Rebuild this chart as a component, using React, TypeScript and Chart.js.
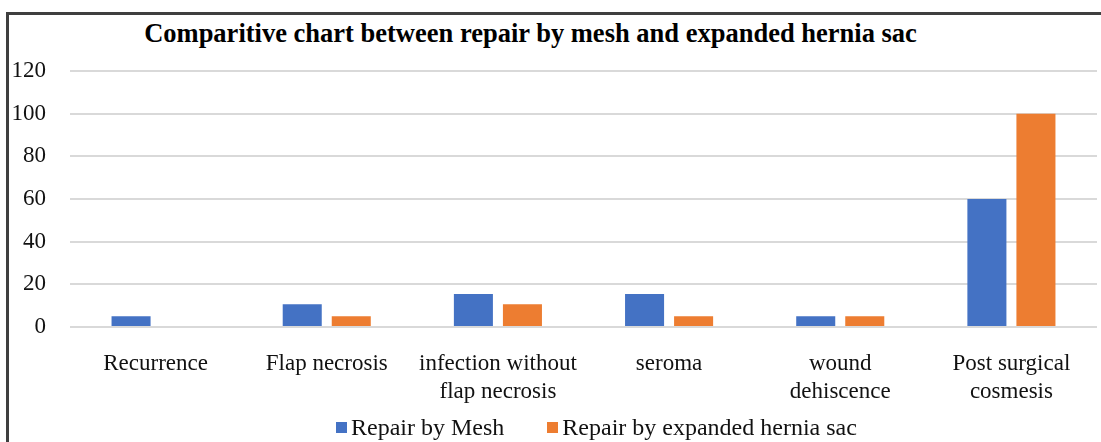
import React, { useEffect, useRef } from "react";
import { Chart, registerables } from "chart.js";

Chart.register(...registerables);

const chartTitle = "Comparitive chart between repair by mesh and expanded hernia sac";
const categories: string[][] = [
  ["Recurrence"],
  ["Flap necrosis"],
  ["infection without", "flap necrosis"],
  ["seroma"],
  ["wound", "dehiscence"],
  ["Post surgical", "cosmesis"],
];
const seriesNames = ["Repair by Mesh", "Repair by expanded hernia sac"];
const meshValues = [5, 10.7, 15.5, 15.5, 5, 60];
const sacValues = [0, 5, 10.7, 5, 5, 100];
const seriesColors = ["#4472C4", "#ED7D31"];
const yMin = 0;
const yMax = 120;
const yStep = 20;

const SERIF = "'Liberation Serif', 'Times New Roman', serif";

export default function App() {
  const canvasRef = useRef<HTMLCanvasElement | null>(null);

  useEffect(() => {
    const canvas = canvasRef.current;
    if (!canvas) return;
    const chart = new Chart(canvas, {
      type: "bar",
      data: {
        labels: categories,
        datasets: [
          {
            label: seriesNames[0],
            data: meshValues,
            backgroundColor: seriesColors[0],
            borderWidth: 0,
            categoryPercentage: 0.573,
            barPercentage: 0.796,
          },
          {
            label: seriesNames[1],
            data: sacValues,
            backgroundColor: seriesColors[1],
            borderWidth: 0,
            categoryPercentage: 0.573,
            barPercentage: 0.796,
          },
        ],
      },
      options: {
        animation: false,
        responsive: false,
        devicePixelRatio: 1,
        layout: { padding: { left: 0, right: 4, top: 71, bottom: 13 } },
        plugins: {
          legend: { display: false },
          title: { display: false },
          tooltip: { enabled: false },
        },
        scales: {
          x: {
            grid: { display: false, drawTicks: false },
            border: { display: false },
            ticks: {
              color: "#111",
              padding: 23,
              maxRotation: 0,
              autoSkip: false,
              font: { family: SERIF, size: 23, lineHeight: 1.217 },
            },
          },
          y: {
            min: yMin,
            max: yMax,
            afterFit: (scale: any) => {
              scale.width = 70;
            },
            grid: { color: "#d9d9d9", lineWidth: 2, drawTicks: false },
            border: { display: false },
            ticks: {
              stepSize: yStep,
              color: "#111",
              padding: 24,
              font: { family: SERIF, size: 23 },
            },
          },
        },
      },
    });
    return () => chart.destroy();
  }, []);

  return (
    <div
      style={{
        position: "fixed",
        left: 0,
        top: 0,
        width: 1101,
        height: 442,
        overflow: "hidden",
        background: "#fff",
      }}
    >
      <div
        style={{
          position: "absolute",
          left: 6,
          top: 12,
          width: 1200,
          height: 600,
          border: "3px solid #3f3f3f",
          boxSizing: "border-box",
        }}
      />
      <div
        style={{
          position: "absolute",
          left: 0,
          top: 19,
          width: 1061,
          textAlign: "center",
          fontFamily: SERIF,
          fontWeight: "bold",
          fontSize: 26.5,
          lineHeight: "28px",
          color: "#000",
          whiteSpace: "nowrap",
        }}
      >
        {chartTitle}
      </div>
      <canvas
        ref={canvasRef}
        width={1101}
        height={442}
        style={{ position: "absolute", left: 0, top: 0, width: 1101, height: 442 }}
      />
      <div
        style={{
          position: "absolute",
          left: 336,
          top: 414,
          display: "flex",
          alignItems: "center",
          fontFamily: SERIF,
          fontSize: 24,
          lineHeight: "26px",
          color: "#111",
          whiteSpace: "nowrap",
        }}
      >
        {seriesNames.map((name, i) => (
          <div
            key={name}
            style={{ display: "flex", alignItems: "center", marginRight: i === 0 ? 43 : 0 }}
          >
            <span
              style={{
                display: "inline-block",
                width: 11,
                height: 11,
                background: seriesColors[i],
                marginRight: 4,
              }}
            />
            <span>{name}</span>
          </div>
        ))}
      </div>
    </div>
  );
}
